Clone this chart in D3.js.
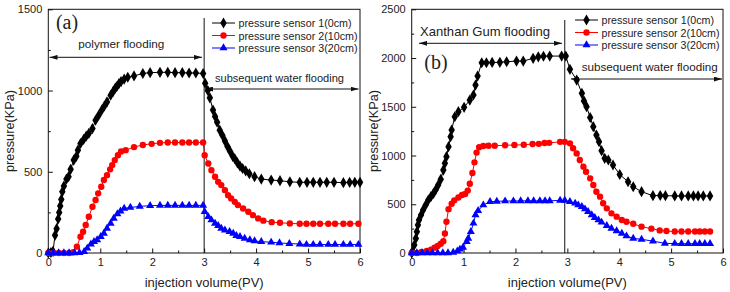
<!DOCTYPE html>
<html>
<head>
<meta charset="utf-8">
<script src="https://cdn.jsdelivr.net/npm/d3@7"></script>
<style>
  body { margin: 0; background: #fff; }
  svg text { font-family: "Liberation Sans", Arial, sans-serif; fill: #222; }
</style>
</head>
<body>
<script>
// chart size
var width = 730,
    height = 292;

// panel (a) - polymer flooding
var a_sensor1 = [[0,0],[0.05,3],[0.09,10],[0.13,110],[0.16,150],[0.19,210],[0.21,250],[0.23,290],[0.25,330],[0.27,377],[0.30,412],[0.35,455],[0.39,470],[0.43,515],[0.49,572],[0.54,595],[0.57,633],[0.62,674],[0.68,699],[0.73,719],[0.78,736],[0.85,766],[0.91,817],[0.97,848],[1.03,880],[1.08,905],[1.13,930],[1.2,971],[1.25,995],[1.29,1015],[1.32,1025],[1.36,1043],[1.40,1055],[1.46,1070],[1.53,1082],[1.65,1090],[1.82,1105],[1.96,1110],[2.15,1112],[2.30,1112],[2.44,1110],[2.58,1110],[2.71,1108],[2.84,1108],[2.98,1105],
  [3.02,1045],[3.07,1000],[3.11,955],[3.17,880],[3.21,840],[3.25,805],[3.3,756],[3.35,725],[3.40,690],[3.45,655],[3.50,625],[3.55,595],[3.59,580],[3.64,555],[3.69,535],[3.74,520],[3.80,505],[3.87,488],[3.97,470],[4.10,455],[4.29,449],[4.46,445],[4.65,438],[4.84,435],[4.98,435],[5.1,435],[5.23,435],[5.36,435],[5.5,435],[5.68,433],[5.8,435],[5.9,435],[6.0,435]];
var a_sensor2 = [[0,0],[0.1,0],[0.2,0],[0.3,0],[0.4,0],[0.48,5],[0.55,39],[0.62,100],[0.67,131],[0.72,172],[0.78,223],[0.85,285],[0.91,326],[0.96,367],[1.02,408],[1.07,449],[1.13,479],[1.19,515],[1.23,541],[1.28,572],[1.34,602],[1.40,625],[1.49,633],[1.65,652],[1.82,665],[1.99,672],[2.15,678],[2.3,680],[2.44,680],[2.58,680],[2.71,680],[2.84,680],[2.98,680],
  [3.01,602],[3.08,551],[3.14,510],[3.21,469],[3.27,438],[3.33,418],[3.40,387],[3.46,356],[3.52,336],[3.59,315],[3.65,295],[3.75,274],[3.85,254],[3.94,233],[4.04,213],[4.14,199],[4.30,190],[4.46,186],[4.65,182],[4.84,180],[4.97,180],[5.1,180],[5.23,180],[5.39,180],[5.52,180],[5.68,180],[5.81,180],[5.97,180]];
var a_sensor3 = [[0,0],[0.1,0],[0.2,0],[0.3,0],[0.4,0],[0.5,0],[0.6,2],[0.69,8],[0.75,29],[0.82,55],[0.88,70],[0.94,80],[1.01,100],[1.07,121],[1.13,152],[1.2,182],[1.26,213],[1.33,240],[1.39,258],[1.46,275],[1.58,280],[1.76,287],[1.96,291],[2.15,293],[2.3,293],[2.44,293],[2.58,293],[2.71,293],[2.84,293],[2.98,293],
  [3.01,254],[3.08,223],[3.14,203],[3.21,182],[3.27,168],[3.33,152],[3.40,141],[3.49,131],[3.56,121],[3.62,107],[3.69,100],[3.78,90],[3.88,80],[3.97,74],[4.1,70],[4.29,66],[4.45,62],[4.64,58],[4.84,55],[4.97,52],[5.1,52],[5.23,52],[5.39,52],[5.52,52],[5.68,52],[5.81,52],[5.97,52]];

// panel (b) - xanthan gum flooding
var b_sensor1 = [[0,0],[0.01,13],[0.05,82],[0.08,150],[0.1,219],[0.12,287],[0.14,338],[0.18,390],[0.22,441],[0.27,492],[0.32,544],[0.37,578],[0.42,612],[0.46,646],[0.51,697],[0.56,756],[0.61,851],[0.64,920],[0.67,988],[0.71,1091],[0.75,1193],[0.77,1262],[0.83,1398],[0.9,1450],[1.01,1494],[1.12,1569],[1.19,1621],[1.23,1723],[1.27,1815],[1.35,1952],[1.44,1952],[1.55,1955],[1.7,1956],[1.83,1962],[2.02,1969],[2.15,1969],[2.34,1997],[2.44,2012],[2.54,2018],[2.66,2020],[2.89,2020],[2.97,2020],
  [3.05,1884],[3.18,1774],[3.28,1638],[3.32,1560],[3.37,1501],[3.44,1390],[3.5,1296],[3.56,1210],[3.61,1142],[3.66,1050],[3.72,971],[3.79,954],[3.88,903],[4.01,805],[4.17,731],[4.27,680],[4.43,629],[4.65,588],[4.79,590],[4.89,588],[5.07,586],[5.2,586],[5.33,586],[5.43,586],[5.52,586],[5.62,586],[5.75,586]];
var b_sensor2 = [[0,0],[0.1,0],[0.19,10],[0.29,20],[0.37,35],[0.44,55],[0.5,72],[0.56,95],[0.61,120],[0.64,200],[0.67,320],[0.71,450],[0.77,505],[0.82,540],[0.9,570],[0.97,595],[1.03,605],[1.08,640],[1.12,710],[1.17,820],[1.21,930],[1.25,1030],[1.3,1085],[1.38,1098],[1.48,1100],[1.6,1100],[1.8,1105],[1.98,1108],[2.16,1110],[2.33,1118],[2.45,1120],[2.56,1128],[2.65,1130],[2.86,1140],[2.95,1140],
  [3.05,1125],[3.11,1074],[3.18,1022],[3.24,954],[3.31,886],[3.36,834],[3.44,766],[3.5,697],[3.56,629],[3.63,578],[3.69,510],[3.76,458],[3.85,407],[3.95,373],[4.05,338],[4.14,321],[4.27,300],[4.43,270],[4.62,250],[4.78,232],[4.91,225],[5.07,220],[5.2,220],[5.33,220],[5.46,220],[5.55,220],[5.65,220],[5.75,220]];
var b_sensor3 = [[0,0],[0.1,0],[0.2,0],[0.3,0],[0.4,0],[0.5,0],[0.6,0],[0.7,0],[0.8,5],[0.88,20],[0.93,38],[0.99,58],[1.06,116],[1.09,150],[1.14,219],[1.19,305],[1.23,390],[1.28,434],[1.38,492],[1.51,526],[1.64,530],[1.8,533],[1.96,533],[2.1,535],[2.24,535],[2.35,535],[2.47,535],[2.57,535],[2.66,535],[2.86,540],[2.95,540],
  [3.05,526],[3.15,510],[3.21,492],[3.28,475],[3.34,451],[3.4,424],[3.47,390],[3.53,362],[3.6,338],[3.66,315],[3.76,280],[3.85,253],[3.95,226],[4.05,202],[4.14,174],[4.27,150],[4.43,140],[4.65,122],[4.88,99],[5.07,97],[5.2,95],[5.33,95],[5.46,95],[5.55,95],[5.65,95],[5.75,95]];

// tick labels / legend text
var xTicks = [0, 1, 2, 3, 4, 5, 6];
var aYTicks = [0, 500, 1000, 1500];
var bYTicks = [0, 500, 1000, 1500, 2000, 2500];
var legendNames = ['pressure sensor 1(0cm)', 'pressure sensor 2(10cm)', 'pressure sensor 3(20cm)'];
var seriesColors = ['#000000', '#ff0000', '#0000ff'];
var seriesShapes = [d3.symbolDiamond, d3.symbolCircle, d3.symbolTriangle];
var markerSizes = [36, 32, 28];

var svg = d3.select('body').append('svg')
    .attr('width', width)
    .attr('height', height);

// arrow heads
var defs = svg.append('defs');
defs.append('marker')
    .attr('id', 'head')
    .attr('viewBox', '0 0 10 6')
    .attr('refX', 10).attr('refY', 3)
    .attr('markerWidth', 8).attr('markerHeight', 5)
    .attr('markerUnits', 'userSpaceOnUse')
    .attr('orient', 'auto-start-reverse')
  .append('path')
    .attr('d', 'M0,0 L10,3 L0,6 Z')
    .attr('fill', '#111');

var drawPanel = function(p){
  var x = d3.scaleLinear().domain([0, 6]).range([p.left, p.right]);
  var y = d3.scaleLinear().domain([0, p.yMax]).range([253, 9.3]);
  var g = svg.append('g');

  // minor ticks
  g.append('g').attr('transform', 'translate(0,253)')
      .call(d3.axisBottom(x).tickValues(d3.range(0.5, 6, 1)).tickSize(-2.5).tickFormat(''))
      .call(function(s){ s.select('.domain').remove(); });
  g.append('g').attr('transform', 'translate(' + p.left + ',0)')
      .call(d3.axisLeft(y).tickValues(d3.range(250, p.yMax, 500)).tickSize(-2.5).tickFormat(''))
      .call(function(s){ s.select('.domain').remove(); });

  // major ticks
  var xa = g.append('g').attr('transform', 'translate(0,253)')
      .call(d3.axisBottom(x).tickValues(xTicks).tickSize(-4.5).tickPadding(5).tickFormat(d3.format('d')));
  var ya = g.append('g').attr('transform', 'translate(' + p.left + ',0)')
      .call(d3.axisLeft(y).tickValues(p.yTicks).tickSize(-4.5).tickPadding(6).tickFormat(d3.format('d')));
  [xa, ya].forEach(function(a){
    a.select('.domain').remove();
    a.selectAll('text').style('font-size', '11px').style('font-family', '"Liberation Sans", Arial, sans-serif').attr('fill', '#222');
  });
  g.selectAll('.tick line').attr('stroke', '#111');

  // frame
  g.append('rect')
      .attr('x', p.left).attr('y', 9.3)
      .attr('width', p.right - p.left).attr('height', 253 - 9.3)
      .attr('fill', 'none').attr('stroke', '#111').attr('stroke-width', 1);

  // axis titles
  g.append('text')
      .attr('x', (p.left + p.right) / 2).attr('y', 287)
      .attr('text-anchor', 'middle').style('font-size', '13.5px')
      .attr('textLength', 119).attr('lengthAdjust', 'spacingAndGlyphs')
      .text('injection volume(PV)');
  g.append('text')
      .attr('transform', 'translate(' + (p.left - 34) + ',' + 131 + ') rotate(-90)')
      .attr('text-anchor', 'middle').style('font-size', '13.5px')
      .attr('textLength', 82).attr('lengthAdjust', 'spacingAndGlyphs')
      .text('pressure(KPa)');

  // divider between the two flooding stages
  g.append('line')
      .attr('x1', x(p.split)).attr('x2', x(p.split))
      .attr('y1', p.splitTop).attr('y2', 253)
      .attr('stroke', '#111').attr('stroke-width', 1);

  // stage arrows and labels
  p.stages.forEach(function(s){
    g.append('line')
        .attr('x1', s.x1).attr('x2', s.x2).attr('y1', s.y).attr('y2', s.y)
        .attr('stroke', '#111').attr('stroke-width', 1)
        .attr('marker-start', 'url(#head)').attr('marker-end', 'url(#head)');
    g.append('text')
        .attr('x', s.tx).attr('y', s.ty)
        .attr('text-anchor', 'middle').style('font-size', s.size + 'px')
        .attr('textLength', s.w).attr('lengthAdjust', 'spacingAndGlyphs')
        .text(s.label);
  });

  // series
  var line = d3.line().x(function(d){ return x(d[0]); }).y(function(d){ return y(d[1]); });
  p.series.forEach(function(data, i){
    g.append('path')
        .datum(data)
        .attr('d', line)
        .attr('fill', 'none')
        .attr('stroke', seriesColors[i])
        .attr('stroke-width', 1);
    g.selectAll('.m' + i)
        .data(data)
      .enter().append('path')
        .attr('class', 'm' + i)
        .attr('transform', function(d){ return 'translate(' + x(d[0]) + ',' + y(d[1]) + ')'; })
        .attr('d', d3.symbol().type(seriesShapes[i]).size(markerSizes[i]))
        .attr('fill', seriesColors[i]);
  });

  // panel letter
  g.append('text')
      .attr('x', p.letterX).attr('y', p.letterY)
      .attr('text-anchor', 'middle')
      .style('font-family', '"Liberation Serif", "Times New Roman", serif')
      .style('font-size', '20px')
      .text(p.letter);

  // legend
  legendNames.forEach(function(name, i){
    var ly = p.legendY + i * 12.5;
    g.append('line')
        .attr('x1', p.legendX).attr('x2', p.legendX + 23)
        .attr('y1', ly).attr('y2', ly)
        .attr('stroke', seriesColors[i]).attr('stroke-width', 1);
    g.append('path')
        .attr('transform', 'translate(' + (p.legendX + 11.5) + ',' + ly + ')')
        .attr('d', d3.symbol().type(seriesShapes[i]).size(markerSizes[i]))
        .attr('fill', seriesColors[i]);
    g.append('text')
        .attr('x', p.legendX + 26.5).attr('y', ly + 4)
        .style('font-size', '11px')
        .attr('textLength', p.legendW[i]).attr('lengthAdjust', 'spacingAndGlyphs')
        .text(name);
  });
};

drawPanel({
  left: 48.3, right: 360, yMax: 1500, yTicks: aYTicks,
  series: [a_sensor1, a_sensor2, a_sensor3],
  split: 3, splitTop: 18,
  letter: '(a)', letterX: 67, letterY: 29,
  legendX: 212, legendY: 23, legendW: [113, 119, 119],
  stages: [
    {label: 'polymer flooding', x1: 49.5, x2: 202, y: 57.3, tx: 121.3, ty: 48, size: 11.5, w: 86},
    {label: 'subsequent water flooding', x1: 205, x2: 358.5, y: 89, tx: 279.5, ty: 81.5, size: 11.5, w: 129}
  ]
});

drawPanel({
  left: 411.7, right: 723, yMax: 2500, yTicks: bYTicks,
  series: [b_sensor1, b_sensor2, b_sensor3],
  split: 2.95, splitTop: 20,
  letter: '(b)', letterX: 436, letterY: 69,
  legendX: 575, legendY: 20, legendW: [112.5, 118, 118],
  stages: [
    {label: 'Xanthan Gum flooding', x1: 419, x2: 562, y: 43.3, tx: 485, ty: 36, size: 13, w: 130},
    {label: 'subsequent water flooding', x1: 571, x2: 722, y: 79, tx: 649.7, ty: 70.5, size: 11.5, w: 136}
  ]
});
</script>
</body>
</html>
